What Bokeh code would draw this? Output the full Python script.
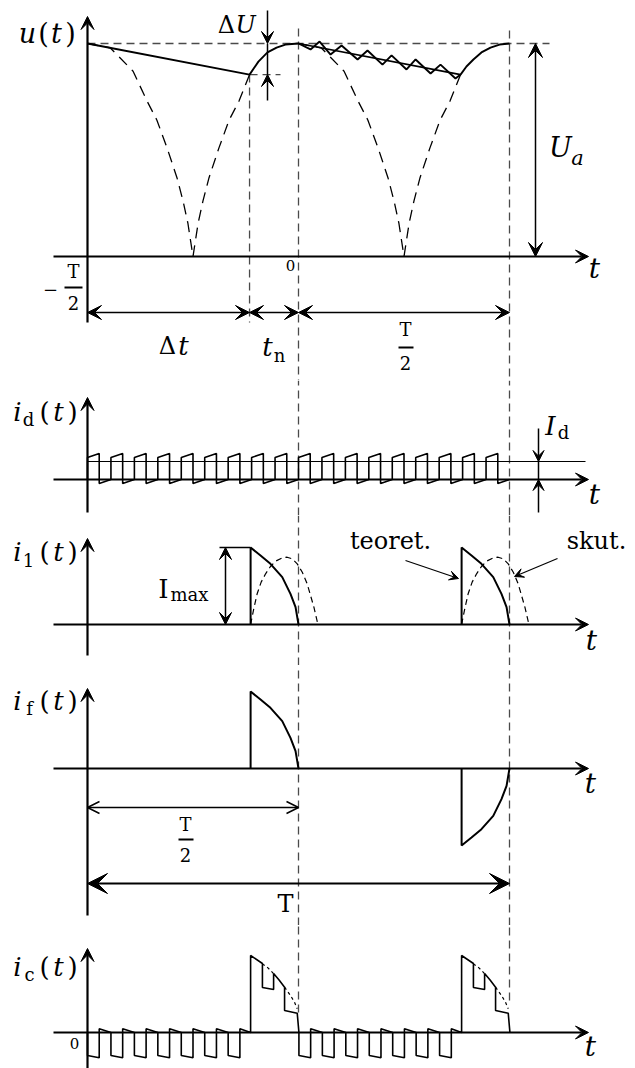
from bokeh.plotting import figure
from bokeh.layouts import column
from bokeh.models import Range1d, Arrow, VeeHead, OpenHead
from bokeh.core.properties import value
from bokeh.embed import file_html
from bokeh.resources import INLINE

# ---------------- data ----------------
# time in units of T/2 : t = 0 at the "0" mark, T/2 = 1, T = 2
# rectified mains voltage |u|, one quarter wave (distance from a zero -> value)
rect_zero_t = [-0.5, 0.5]
rect_d = [0.0, 0.024, 0.047, 0.076, 0.123, 0.171, 0.218, 0.284, 0.393, 0.500]
rect_u = [0.0, 0.155, 0.26, 0.37, 0.51, 0.64, 0.73, 0.87, 0.98, 1.00]
charge_start_t = [-0.232, 0.768]
u_top = 1.0          # U_a
u_low = 0.854        # U_a - dU

# capacitor voltage u(t)
u_solid_t = [-1.0, -0.232, -0.190, -0.147, -0.104, -0.062, 0.0,
             0.057, 0.100, 0.152, 0.204, 0.280, 0.327, 0.398, 0.441,
             0.512, 0.555, 0.626, 0.673, 0.744, 0.768,
             0.796, 0.829, 0.867, 0.910, 0.953, 1.0]
u_solid_u = [1.0, 0.854, 0.915, 0.958, 0.981, 0.995, 1.0,
             0.972, 1.009, 0.948, 0.991, 0.925, 0.967, 0.901, 0.944,
             0.878, 0.925, 0.859, 0.901, 0.836, 0.854,
             0.892, 0.925, 0.958, 0.981, 0.995, 1.0]
u_mean_t = [0.0, 0.768]
u_mean_u = [1.0, 0.854]

# i_d(t): pulse train of the load converter
id_periods = 18
id_high = [0.286, 0.338]
id_low = [-0.052, 0.0]
id_level = 0.234

# charging pulses (theoretical) and measured ("skut.")
pulse_start_t = [-0.227, 0.773]
theor_dt = [0.0, 0.0, 0.047, 0.094, 0.150, 0.189, 0.213, 0.227]
theor_i = [0.0, 1.0, 0.896, 0.788, 0.615, 0.398, 0.225, 0.0]
skut_dt = [0.0, 0.015, 0.031, 0.050, 0.071, 0.094, 0.118, 0.150, 0.173,
           0.197, 0.221, 0.245, 0.268, 0.284, 0.300, 0.319]
skut_i = [0.0, 0.204, 0.399, 0.550, 0.658, 0.753, 0.822, 0.866, 0.874,
          0.853, 0.788, 0.679, 0.528, 0.377, 0.225, 0.0]
if_sign = [1, -1]

# i_c(t)
ic_gap_start = [-1.0, 0.002]
ic_periods_per_gap = 7
ic_neg = [-0.299, -0.329]
ic_pos = [0.048, 0.0]
ic_pulse_dt = [0.0, 0.0, 0.056, 0.056, 0.109, 0.109, 0.135, 0.161, 0.161, 0.221, 0.229]
ic_pulse_i = [0.0, 1.0, 0.896, 0.584, 0.558, 0.766, 0.682, 0.588, 0.286, 0.251, 0.0]
ic_dot1_dt = [0.055, 0.082, 0.110]
ic_dot1_i = [0.892, 0.840, 0.762]
ic_dot2_dt = [0.161, 0.189, 0.208, 0.221]
ic_dot2_i = [0.588, 0.481, 0.394, 0.308]

# ---------------- layout ----------------
BLACK = "black"
GREY = "#4a4a4a"
SERIF = "DejaVu Serif"
W = 635


def T(px):
    return (px - 298) / 211.0


x_range = Range1d(T(0), T(635))
PANELS = [(0, 380, 256, 213.0), (380, 515, 479, 77.0), (515, 665, 624, 77.0),
          (665, 925, 768, 77.0), (925, 1068, 1032, 77.0)]
figs, Ys = [], []
for top, bot, base, sc in PANELS:
    p = figure(width=W, height=bot - top, x_range=x_range,
               y_range=Range1d((base - bot) / sc, (base - top) / sc),
               output_backend="svg", toolbar_location=None, min_border=0,
               x_axis_type=None, y_axis_type=None)
    p.outline_line_color = None
    p.grid.visible = False
    p.background_fill_color = "white"
    p.border_fill_color = "white"
    figs.append(p)
    Ys.append(lambda py, base=base, sc=sc: (base - py) / sc)


def put(p, Y, px, py, s, size, italic=False, align="center"):
    p.text(x=[T(px)], y=[Y(py)], text=[s], text_font=value(SERIF),
           text_font_size=f"{size}px",
           text_font_style="italic" if italic else "normal",
           text_align=align, text_baseline="middle", text_color=BLACK)


def head(kind, size, lw):
    if kind == "open":
        return OpenHead(size=size, line_color=BLACK, line_width=lw)
    return VeeHead(size=size, fill_color=BLACK, line_color=BLACK, line_width=1)


def arr(p, Y, x0, y0, x1, y1, size=12, both=False, lw=1.5, kind="vee"):
    p.add_layout(Arrow(x_start=T(x0), y_start=Y(y0), x_end=T(x1), y_end=Y(y1),
                       line_color=BLACK, line_width=lw,
                       end=head(kind, size, lw),
                       start=head(kind, size, lw) if both else None))


def pline(p, Y, pxs, pys, **kw):
    p.line([T(v) for v in pxs], [Y(v) for v in pys], **kw)


def axes(p, Y, ybot, ytop, base):
    arr(p, Y, 87, ybot, 87, ytop, size=13, lw=2.2)
    arr(p, Y, 53, base, 588, base, size=13, lw=2.2)


def fn_label(p, Y, py, sub, sub_px):
    put(p, Y, 17, py, "i", 26, italic=True)
    put(p, Y, sub_px, py + 8, sub, 18)
    put(p, Y, 44, py, "(", 26)
    put(p, Y, 58, py, "t", 26, italic=True)
    put(p, Y, 72, py, ")", 26)


def vdash(p, t, y0, y1):
    p.line([t, t], [y0, y1], line_color=GREY, line_width=1.3, line_dash="8 5")


DASH = dict(line_color=GREY, line_width=1.3, line_dash="8 5")

# ======== panel 1 : u(t) ========
p, Y = figs[0], Ys[0]
ylo, yhi = p.y_range.start, p.y_range.end
p.line([-1.0, T(549)], [u_top, u_top], **DASH)
p.line([charge_start_t[0], T(280)], [u_low, u_low], **DASH)
vdash(p, charge_start_t[0], u_low, Y(322))
vdash(p, 0.0, Y(28), ylo)
vdash(p, 1.0, Y(30), ylo)
for z, tc in zip(rect_zero_t, charge_start_t):
    xs = [z - d for d in reversed(rect_d)]
    ys = list(reversed(rect_u))
    for d, v in zip(rect_d[1:], rect_u[1:]):
        if z + d < tc:
            xs.append(z + d)
            ys.append(v)
    xs.append(tc)
    ys.append(u_low)
    p.line(xs, ys, line_color=BLACK, line_width=1.3, line_dash="11 7")
p.line(u_mean_t, u_mean_u, line_color=BLACK, line_width=1.6)
p.line(u_solid_t, u_solid_u, line_color=BLACK, line_width=1.9)
axes(p, Y, 322, 16, 256)
for px, ch, it in [(27, "u", True), (43, "(", False), (56, "t", True), (70, ")", False)]:
    put(p, Y, px, 33, ch, 27, italic=it)
put(p, Y, 594, 268, "t", 28, italic=True)
put(p, Y, 290, 265, "0", 15)
put(p, Y, 50, 288, "\u2212", 18)
put(p, Y, 73, 271, "T", 18)
pline(p, Y, [64, 82], [287, 287], line_color=BLACK, line_width=2)
put(p, Y, 73, 302, "2", 18)
# dU
put(p, Y, 226, 24, "\u0394", 24)
put(p, Y, 245, 24, "U", 24, italic=True)
arr(p, Y, 267, 10, 267, 43, size=12, lw=1.5)
arr(p, Y, 267, 100, 267, 74, size=12, lw=1.5)
pline(p, Y, [267, 267], [43, 74], line_color=BLACK, line_width=1.5)
# Ua
arr(p, Y, 535, 256, 535, 43, size=14, both=True, lw=1.5)
put(p, Y, 560, 147, "U", 27, italic=True)
put(p, Y, 577, 157, "a", 21, italic=True)
# time dimension arrows
for a, b in [(87, 249), (249, 298), (298, 509)]:
    arr(p, Y, a, 312, b, 312, size=14, both=True, lw=1.5)
put(p, Y, 167, 345, "\u0394", 24)
put(p, Y, 183, 345, "t", 26, italic=True)
put(p, Y, 267, 346, "t", 26, italic=True)
put(p, Y, 279, 355, "n", 18)
put(p, Y, 405, 329, "T", 18)
pline(p, Y, [398, 413], [347, 347], line_color=BLACK, line_width=2)
put(p, Y, 405, 362, "2", 18)

# ======== panel 2 : i_d(t) ========
p, Y = figs[1], Ys[1]
ylo, yhi = p.y_range.start, p.y_range.end
vdash(p, 0.0, ylo, yhi)
vdash(p, 1.0, ylo, yhi)
P = 2.0 / id_periods
xs, ys = [-1.0], [0.0]
for k in range(id_periods):
    a = -1.0 + k * P
    m = a + P / 2
    xs += [a, m, m, a + P]
    ys += [id_high[0], id_high[1], id_low[0], id_low[1]]
p.line(xs, ys, line_color=BLACK, line_width=1.6)
p.line([-1.0, T(585)], [id_level, id_level], line_color=BLACK, line_width=1.1)
axes(p, Y, 512, 397, 479)
fn_label(p, Y, 411, "d", 28)
put(p, Y, 594, 494, "t", 28, italic=True)
arr(p, Y, 538, 428, 538, 461, size=11, lw=1.5)
arr(p, Y, 538, 512, 538, 479, size=11, lw=1.5)
pline(p, Y, [538, 538], [461, 479], line_color=BLACK, line_width=1.5)
put(p, Y, 550, 425, "I", 26, italic=True)
put(p, Y, 563, 432, "d", 18)

# ======== panel 3 : i_1(t) ========
p, Y = figs[2], Ys[2]
ylo, yhi = p.y_range.start, p.y_range.end
vdash(p, 0.0, ylo, yhi)
vdash(p, 1.0, ylo, yhi)
for s in pulse_start_t:
    p.line([s + d for d in skut_dt], skut_i, line_color=BLACK, line_width=1.2, line_dash="6 4")
    p.line([s + d for d in theor_dt], theor_i, line_color=BLACK, line_width=2)
axes(p, Y, 655, 538, 624)
fn_label(p, Y, 551, "1", 28)
put(p, Y, 591, 640, "t", 28, italic=True)
arr(p, Y, 225, 624, 225, 547, size=12, both=True, lw=1.5)
pline(p, Y, [219, 250], [547, 547], line_color=BLACK, line_width=1.5)
put(p, Y, 163, 588, "I", 26)
put(p, Y, 189, 594, "max", 18)
put(p, Y, 390, 540, "teoret.", 24)
put(p, Y, 596, 540, "skut.", 24)
arr(p, Y, 405, 560, 458, 578, size=9, lw=1.2)
arr(p, Y, 557, 558, 514, 576, size=9, lw=1.2)

# ======== panel 4 : i_f(t) ========
p, Y = figs[3], Ys[3]
ylo, yhi = p.y_range.start, p.y_range.end
vdash(p, 0.0, ylo, yhi)
vdash(p, 1.0, ylo, yhi)
for s, sg in zip(pulse_start_t, if_sign):
    p.line([s + d for d in theor_dt], [sg * v for v in theor_i], line_color=BLACK, line_width=2)
axes(p, Y, 915, 688, 768)
fn_label(p, Y, 700, "f", 29)
put(p, Y, 590, 783, "t", 28, italic=True)
arr(p, Y, 87, 807, 298, 807, size=12, both=True, lw=1.5, kind="open")
put(p, Y, 185, 824, "T", 18)
pline(p, Y, [178, 193], [839, 839], line_color=BLACK, line_width=2)
put(p, Y, 185, 854, "2", 18)
arr(p, Y, 87, 883, 509, 883, size=20, both=True, lw=1.8)
put(p, Y, 285, 903, "T", 24)

# ======== panel 5 : i_c(t) ========
p, Y = figs[4], Ys[4]
ylo, yhi = p.y_range.start, p.y_range.end
vdash(p, 0.0, Y(1012), yhi)
vdash(p, 1.0, Y(1000), yhi)
P = 2.0 / id_periods
xs, ys = [], []
for g, ps in zip(ic_gap_start, pulse_start_t):
    xs.append(g)
    ys.append(0.0)
    for k in range(ic_periods_per_gap):
        a = g + k * P
        m = a + P / 2
        xs += [a, m, m, min(a + P, ps)]
        ys += [ic_neg[0], ic_neg[1], ic_pos[0], ic_pos[1]]
    xs += [ps + d for d in ic_pulse_dt]
    ys += ic_pulse_i
p.line(xs, ys, line_color=BLACK, line_width=1.6)
for ps in pulse_start_t:
    p.line([ps + d for d in ic_dot1_dt], ic_dot1_i, line_color=BLACK, line_width=1.2, line_dash="3 3")
    p.line([ps + d for d in ic_dot2_dt], ic_dot2_i, line_color=BLACK, line_width=1.2, line_dash="3 3")
axes(p, Y, 1075, 948, 1032)
fn_label(p, Y, 966, "c", 29)
put(p, Y, 590, 1046, "t", 28, italic=True)
put(p, Y, 74, 1043, "0", 15)

layout = column(*figs, spacing=0)
open("out.html", "w").write(file_html(layout, INLINE))
